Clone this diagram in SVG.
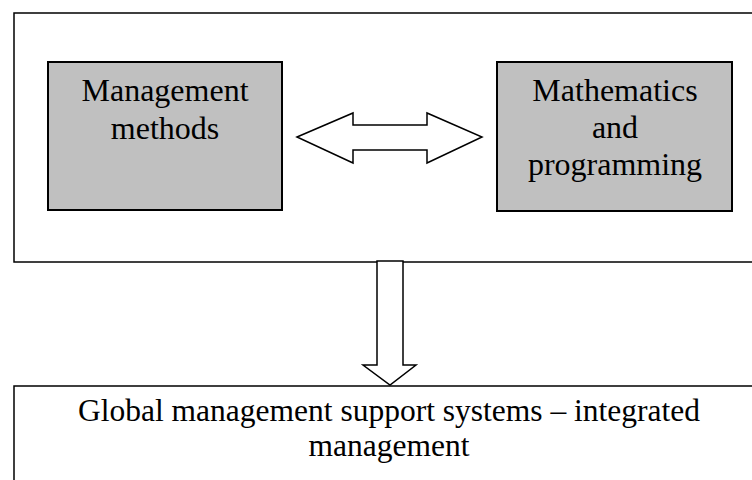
<svg xmlns="http://www.w3.org/2000/svg" width="752" height="480" viewBox="0 0 752 480">
<style>
.frame{fill:#ffffff;stroke:#000;stroke-width:1.5}
.gray{fill:#c0c0c0;stroke:#000;stroke-width:2}
.arrow{fill:#ffffff;stroke:#000;stroke-width:1.5;stroke-linejoin:miter}
.t{font-family:"Liberation Serif","Times New Roman",serif;font-size:32px;fill:#000;text-anchor:middle}
.b{font-size:31.5px}
</style>
<rect width="752" height="480" fill="#ffffff"/>
<g id="outer">
<rect class="frame" x="14" y="13" width="750" height="249"/>
</g>
<g id="management-methods">
<rect class="gray" x="48" y="62" width="234" height="148"/>
<text class="t" x="165" y="101">Management<tspan x="165" dy="38">methods</tspan></text>
</g>
<g id="mathematics-programming">
<rect class="gray" x="497" y="62" width="235" height="149"/>
<text class="t" x="615" y="101">Mathematics<tspan x="615" dy="37">and</tspan><tspan x="615" dy="37">programming</tspan></text>
</g>
<g id="global-management">
<rect class="frame" x="14" y="386" width="750" height="110"/>
<text class="t b" x="389" y="421">Global management support systems – integrated</text>
<text class="t b" x="389" y="456">management</text>
</g>
<g id="connectors">
<polygon class="arrow" points="297,137 353,113 353,125 427,125 427,113 482,137 427,163 427,150 353,150 353,163"/>
<polygon class="arrow" points="377,261 403,261 403,365 416,365 390,385 363,365 377,365"/>
</g>
</svg>
